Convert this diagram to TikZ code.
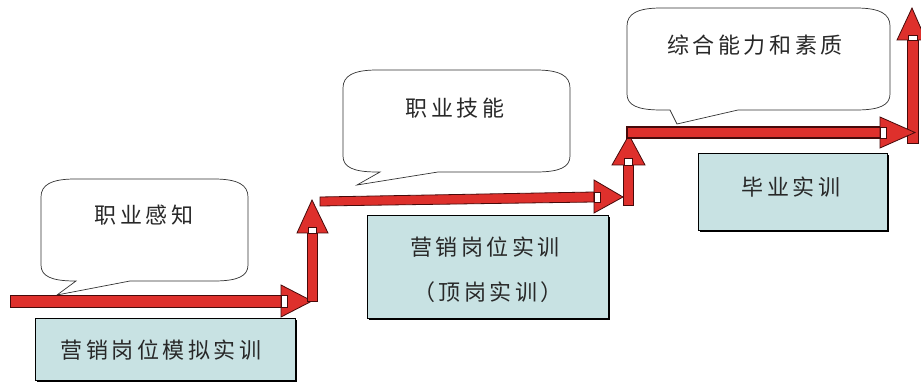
\documentclass[tikz,border=0pt]{standalone}
\usepackage{fontspec}
\usetikzlibrary{shadows}
\newfontfamily\cjk{Noto Sans CJK SC}[LetterSpace=16]
\definecolor{arrred}{RGB}{222,48,44}
\definecolor{arredge}{RGB}{70,10,10}
\definecolor{boxfill}{RGB}{200,226,227}
\definecolor{txt}{RGB}{40,40,40}
\tikzset{
 arrowshape/.style={fill=arrred, draw=arredge, line width=0.8pt, line join=miter},
 notch/.style={fill=white, draw=arredge, line width=0.6pt},
 trainbox/.style={draw=black, line width=1.3pt, fill=boxfill, inner sep=0pt, anchor=north west,
   drop shadow={shadow xshift=1.3pt, shadow yshift=-1.3pt, opacity=1, fill=black}},
 bubble/.style={draw=black!80, line width=0.7pt, fill=white},
 lbl/.style={font=\cjk\fontsize{22}{27}\selectfont, text=txt, inner sep=0pt, align=center}
}
\newcommand\bubblepath[8]{% L T R B t1 tipx tipy t2
 \draw[bubble] (#1+34,#2) -- (#3-34,#2) .. controls (#3-10,#2) and (#3,#2+6) .. (#3,#2+18)
   -- (#3,#4-16) .. controls (#3,#4-5) and (#3-10,#4) .. (#3-34,#4)
   -- (#8,#4) -- (#6,#7) -- (#5,#4) -- (#1+34,#4)
   .. controls (#1+10,#4) and (#1,#4-5) .. (#1,#4-16)
   -- (#1,#2+18) .. controls (#1,#2+6) and (#1+10,#2) .. cycle;}
\begin{document}
\begin{tikzpicture}[x=1pt,y=-1pt]
\useasboundingbox[fill=white] (0,0) rectangle (921,382);

% callouts
\bubblepath{41}{179}{248}{281}{76}{57}{295}{130}
\bubblepath{343}{70}{570}{172}{380}{357}{185}{438}
\bubblepath{627}{8}{890}{110}{670}{677}{124}{738}
\node[lbl] (c1) at (144,215) {职业感知};
\node[lbl] (c2) at (455,108) {职业技能};
\node[lbl] (c3) at (755,45) {综合能力和素质};

% training boxes
\node[trainbox, minimum width=260pt, minimum height=62pt] (b1) at (35,318) {};
\node[trainbox, minimum width=241pt, minimum height=103pt] (b2) at (367,215) {};
\node[trainbox, minimum width=189pt, minimum height=77pt] (b3) at (698,153) {};
\node[lbl] (t1) at (161,350) {营销岗位模拟实训};
\node[lbl] (t2a) at (485,247) {营销岗位实训};
\node[lbl] (t2b) at (488,292) {（顶岗实训）};
\node[lbl] (t3) at (791,187) {毕业实训};

% arrow 1 (horizontal)
\draw[arrowshape] (10,295) rectangle (281,307);
\draw[arrowshape] (281,285) -- (312,301) -- (281,317) -- cycle;
\draw[notch] (281,295) rectangle (287,307);
% arrow 1 (vertical)
\draw[arrowshape] (307,233) rectangle (317,301);
\draw[arrowshape] (297,233) -- (312,200) -- (328,233) -- cycle;
\draw[notch] (308,227) rectangle (316,233);
% arrow 2 (horizontal)
\draw[arrowshape] (320,197) -- (594,192) -- (594,202) -- (320,206) -- cycle;
\draw[arrowshape] (594,180) -- (623,197) -- (594,213) -- cycle;
\draw[notch] (594,192) rectangle (600,202);
% arrow 2 (vertical)
\draw[arrowshape] (623,165) rectangle (633,205);
\draw[arrowshape] (612,165) -- (629,135) -- (645,165) -- cycle;
\draw[notch] (624,158) rectangle (632,165);
% arrow 3 (vertical, final)
\draw[arrowshape] (907,40) rectangle (918,143);
\draw[arrowshape] (897,40) -- (912,8) -- (926,40) -- cycle;
\draw[notch] (908,35) rectangle (917,40);
% arrow 3 (horizontal)
\draw[arrowshape, line width=1.2pt] (627,127) rectangle (881,138);
\draw[arrowshape] (880,117) -- (915,132.5) -- (880,148) -- cycle;
\draw[notch] (880,127) rectangle (886,138);
\end{tikzpicture}
\end{document}
